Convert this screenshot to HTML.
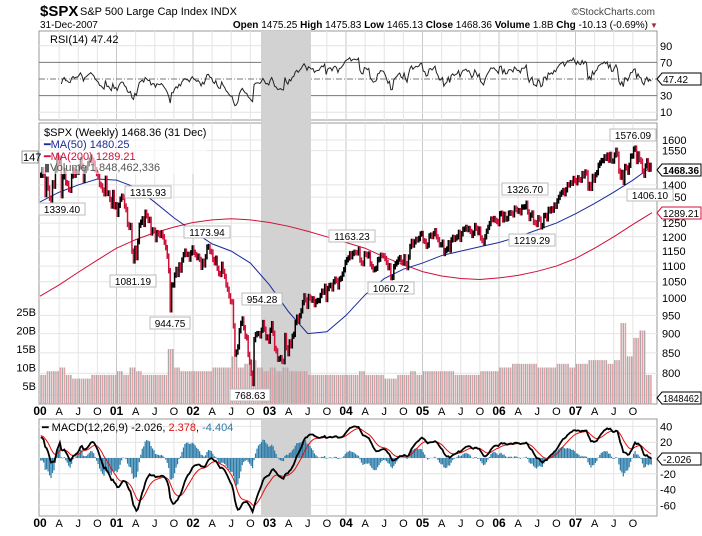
<!DOCTYPE html>
<html><head><meta charset="utf-8"><style>
body{margin:0;background:#fff;width:702px;height:531px;overflow:hidden;font-family:"Liberation Sans",sans-serif}
svg text{font-family:"Liberation Sans",sans-serif}
</style></head><body>
<svg id="c" width="702" height="531" xmlns="http://www.w3.org/2000/svg">
<text x="40" y="16" font-size="15" font-weight="bold">$SPX</text>
<text x="80" y="15" font-size="11">S&amp;P 500 Large Cap Index  INDX</text>
<text x="655" y="15" font-size="10" text-anchor="end" fill="#444">©StockCharts.com</text>
<text x="40" y="28" font-size="10">31-Dec-2007</text>
<text x="648" y="28" font-size="10" text-anchor="end"><tspan font-weight="bold">Open</tspan> 1475.25 <tspan font-weight="bold">High</tspan> 1475.83 <tspan font-weight="bold">Low</tspan> 1465.13 <tspan font-weight="bold">Close</tspan> 1468.36 <tspan font-weight="bold">Volume</tspan> 1.8B <tspan font-weight="bold">Chg</tspan> -10.13 (-0.69%)</text>
<text x="650" y="28" font-size="8" fill="#a03040">▼</text>
<g id="g"></g>
</svg>
<script>
const closes2000=[1441,1465,1441,1360,1424,1387,1346,1333,1409,1395,1464,1527,1499,1516,1356,1434,1461,1409,1406,1381,1378,1438,1464,1441,1455,1454,1478,1509,1481,1419,1462,1472,1491,1506,1520,1507,1494,1465,1448,1436,1402,1396,1379,1364,1428,1365,1367,1341,1315,1369,1312,1320];
const closes2001=[1283,1318,1342,1354,1349,1315,1301,1245,1234,1241,1150,1117,1160,1128,1183,1242,1253,1266,1245,1291,1277,1260,1264,1214,1225,1224,1190,1215,1210,1205,1214,1200,1181,1162,1133,1085,966,1040,1040,1071,1089,1073,1104,1087,1120,1138,1150,1139,1139,1123,1144,1161];
const closes2002=[1146,1138,1128,1133,1122,1096,1116,1104,1131,1164,1166,1149,1147,1122,1111,1126,1093,1076,1073,1106,1083,1067,1040,1027,1007,990,989,921,847,852,865,908,928,940,916,893,889,846,827,800,776,884,897,900,900,894,909,930,912,889,891,880];
const closes2003=[909,927,901,861,855,834,835,838,829,828,895,863,848,878,868,893,898,930,945,934,949,963,987,1007,995,976,1005,1000,994,998,981,990,993,993,1008,1021,1018,1036,996,1029,1038,1039,1028,1050,1058,1053,1034,1058,1061,1074,1088,1112];
const closes2004=[1121,1127,1141,1131,1142,1146,1145,1144,1156,1120,1110,1108,1141,1139,1134,1140,1107,1098,1088,1090,1093,1121,1123,1136,1135,1134,1125,1112,1095,1101,1063,1064,1098,1107,1113,1123,1128,1113,1110,1131,1108,1095,1130,1166,1184,1171,1182,1191,1189,1194,1210,1212];
const closes2005=[1186,1184,1167,1171,1203,1206,1201,1211,1222,1200,1190,1172,1172,1181,1142,1152,1157,1179,1154,1189,1198,1191,1196,1200,1216,1191,1211,1227,1228,1234,1226,1230,1219,1205,1213,1241,1231,1215,1228,1196,1187,1178,1200,1220,1234,1248,1265,1263,1267,1260,1256,1248];
const closes2006=[1285,1287,1262,1283,1265,1267,1287,1289,1287,1281,1307,1302,1295,1297,1289,1311,1311,1312,1326,1292,1267,1280,1288,1253,1251,1245,1270,1265,1236,1241,1278,1279,1266,1302,1296,1304,1299,1319,1314,1335,1349,1362,1369,1377,1364,1380,1401,1400,1409,1407,1427,1418];
const closes2007=[1409,1430,1422,1420,1448,1438,1455,1451,1387,1402,1386,1436,1420,1443,1452,1484,1494,1505,1505,1522,1515,1530,1507,1533,1503,1503,1530,1552,1534,1459,1433,1453,1411,1479,1473,1454,1484,1525,1526,1557,1562,1501,1535,1509,1502,1459,1441,1481,1504,1467,1484,1468];
const ma50Quarterly=[1331,1370,1400,1425,1420,1390,1330,1270,1220,1175,1150,1110,1040,960,900,905,950,1010,1060,1090,1110,1135,1150,1165,1180,1200,1225,1250,1285,1325,1370,1420,1480];
const ma200Quarterly=[1006,1040,1080,1120,1160,1190,1215,1235,1252,1262,1266,1262,1252,1238,1220,1200,1180,1160,1130,1105,1082,1068,1060,1057,1062,1070,1083,1100,1125,1160,1200,1245,1289];
const volumeMonthly=[8,9,9,10,8,7,7,7,8,8,8,8,9,8,10,9,8,8,8,8,15,10,9,9,9,9,9,10,10,10,13,10,11,12,10,9,10,9,10,9,9,9,8,8,8,8,8,8,8,8,9,8,8,8,7,7,8,8,9,8,9,9,9,9,9,8,8,8,8,9,9,9,10,10,11,11,11,11,10,10,10,11,11,10,11,11,12,12,12,11,12,22,13,18,20,8];
const priceTicks=[1600,1550,1400,1350,1250,1200,1150,1100,1050,1000,950,900,850,800,750];
const rsiTicks=[90,70,30,10];
const macdTicks=[40,20,-20,-40,-60];
const volTicks=[25,20,15,10,5];
const yearLabels=["00","01","02","03","04","05","06","07"];
const monthLabels=["A","J","O"];

const closes=[].concat(closes2000,closes2001,closes2002,closes2003,closes2004,closes2005,closes2006,closes2007);
const N=closes.length;
const NS="http://www.w3.org/2000/svg";
const G=document.getElementById('g');
function mk(t,a,p){const e=document.createElementNS(NS,t);for(const k in a)e.setAttribute(k,a[k]);(p||G).appendChild(e);return e;}
const X0=40,XW=612;
const xw=i=>X0+(i+0.5)*XW/N;
const xq=q=>X0+q*XW/32;
const yP=v=>140+336.5*(Math.log(1600)-Math.log(v));
const yR=v=>79-(v-50)*0.83;
const yM=v=>458-v*0.79;
const yV=v=>404.5-v*3.7;

const p1=mk('rect',{x:39,y:31,width:618,height:89,fill:'#fff',stroke:'#999'});

const p2=mk('rect',{x:39,y:123,width:618,height:281,fill:'#fff',stroke:'#999'});

const p3=mk('rect',{x:39,y:419,width:618,height:97,fill:'#fff',stroke:'#999'});

for(let q=1;q<32;q++){for(const [a,b] of [[31,120],[123,404],[419,516]]){const l=mk('line',{x1:xq(q),x2:xq(q),y1:a,y2:b,stroke:q%4==0?'#c8c8c8':'#e4e4e4'});}}
priceTicks.forEach(v=>{const l=mk('line',{x1:39,x2:657,y1:yP(v),y2:yP(v),stroke:'#e4e4e4'});
 const t=mk('text',{x:662,y:yP(v)+4,'font-size':11});t.textContent=v;});
rsiTicks.concat([50]).forEach(v=>{const l=mk('line',{x1:39,x2:657,y1:yR(v),y2:yR(v),stroke:(v==70||v==30||v==50)?'#777':'#e4e4e4','stroke-dasharray':v==50?'6,2,1,2':''});
 if(v!=50){const t=mk('text',{x:660,y:yR(v)+4,'font-size':11});t.textContent=v;}});
macdTicks.concat([0]).forEach(v=>{const l=mk('line',{x1:39,x2:657,y1:yM(v),y2:yM(v),stroke:'#e4e4e4'});
 if(v!=0){const t=mk('text',{x:660,y:yM(v)+4,'font-size':11});t.textContent=v;}});
volTicks.forEach(v=>{const t=mk('text',{x:36,y:yV(v)+4,'font-size':11,'text-anchor':'end'});t.textContent=v+'B';});
for(const [a,b] of [[31,404],[419,516]]){const s=mk('rect',{x:261,y:a,width:50,height:b-a,fill:'#d2d2d2'});}
volumeMonthly.forEach((v,m)=>{const w=XW/96;const i0=Math.floor(m*N/96),i1=Math.min(N-1,Math.floor((m+1)*N/96));
 for(let k=0;k<3;k++){const up=(m+k)%2==0;
 const r=mk('rect',{x:X0+m*w+k*w/3+0.3,y:yV(v),width:w/3-0.6,height:404.5-yV(v),fill:up?'#aaa':'#e4a0a4'});}});
function line(pts,col,w,name){const l=mk('polyline',{points:pts.map(p=>p.join(',')).join(' '),fill:'none',stroke:col,'stroke-width':w});}
line(ma200Quarterly.map((v,q)=>[xq(q),yP(v)]),'#d0103a',1,'ma200-line');
line(ma50Quarterly.map((v,q)=>[xq(q),yP(v)]),'#1a2a9a',1,'ma50-line');
closes.forEach((c,i)=>{const o=i?closes[i-1]:c;const hi=Math.max(o,c)*1.008,lo=Math.min(o,c)*0.992;const x=xw(i);const col=c>=o?'#000':'#d0103a';
 const b=mk('line',{x1:x,x2:x,y1:yP(hi),y2:yP(lo),stroke:col,'stroke-width':1.5});});
const rsi=[];let ag=0,al=0;
for(let i=1;i<N;i++){const d=closes[i]-closes[i-1];const g=Math.max(d,0),l=Math.max(-d,0);if(i<=14){ag+=g/14;al+=l/14;}else{ag=(ag*13+g)/14;al=(al*13+l)/14;}
 if(i>=14)rsi.push([xw(i),yR(al==0?100:100-100/(1+ag/al))]);}
line(rsi,'#222',1,'rsi-line');
let e12=closes[0]*1.005,e26=closes[0]*0.985,sig=closes[0]*0.02;const mac=[],sg=[];
closes.forEach((c,i)=>{e12+=(c-e12)*2/13;e26+=(c-e26)*2/27;const m=e12-e26;sig+=(m-sig)*2/10;mac.push([xw(i),yM(m)]);sg.push([xw(i),yM(sig)]);
 const h=m-sig;const r=mk('rect',{x:xw(i)-0.6,y:Math.min(yM(h*1.5),458),width:1.2,height:Math.abs(h*1.5*0.79),fill:'#2a7aa8'});});
line(sg,'#e01010',1,'macd-signal-line');
line(mac,'#000',1.8,'macd-line');
for(const yy of [415,527]){yearLabels.forEach((y,k)=>{const t=mk('text',{x:xq(k*4),y:yy,'font-size':12,'font-weight':'bold','text-anchor':'middle'});t.textContent=y;
 monthLabels.forEach((m,j)=>{const u=mk('text',{x:xq(k*4+j+1),y:yy,'font-size':11,'text-anchor':'middle'});u.textContent=m;});});}
[[62,213,'1339.40'],[148,196,'1315.93'],[133,285,'1081.19'],[170,327,'944.75'],[207,236,'1173.94'],[262,303,'954.28'],[250,399,'768.63'],[352,240,'1163.23'],[391,292,'1060.72'],[525,193,'1326.70'],[532,244,'1219.29'],[633,139,'1576.09'],[650,199,'1406.10']].forEach(a=>{
 const w=a[2].length*6+4;const r=mk('rect',{x:a[0]-w/2,y:a[1]-10,width:w,height:12,fill:'#fff',stroke:'#bbb'});
 const t=mk('text',{x:a[0],y:a[1],'font-size':10,'text-anchor':'middle'});t.textContent=a[2];});
[[170,'1468.36','#000',true],[213,'1289.21','#d0103a',false],[398,'1848462','#000',false],[79,'47.42','#000',false],[459,'-2.026','#000',false]].forEach(a=>{
 const r=mk('path',{d:`M657,${a[0]} l5,-6 h39 v12 h-39 z`,fill:'#fff',stroke:a[2]});
 const t=mk('text',{x:663,y:a[0]+4,'font-size':10,'font-weight':a[3]?'bold':'normal',textLength:a[1].length>6?36:'', lengthAdjust:'spacingAndGlyphs'});
 if(a[1].length<=6)t.removeAttribute('textLength');
 t.textContent=a[1];});
function tx(x,y,s,col,name){const t=mk('text',{x:x,y:y,'font-size':11,fill:col});t.textContent=s;return t;}
const bg=mk('rect',{x:42,y:126,width:165,height:48,fill:'#fff','fill-opacity':0.6});
tx(50,43,'RSI(14) 47.42','#000','rsi-legend');
tx(44,136,'$SPX (Weekly) 1468.36 (31 Dec)','#000','price-legend');
tx(44,148,'━MA(50) 1480.25','#1a2a9a','ma50-legend');
tx(44,160,'━MA(200) 1289.21','#d0103a','ma200-legend');
tx(44,171,'▮Volume 1,848,462,336','#555','volume-legend');
const ml=tx(42,431,'','#000','macd-legend');ml.innerHTML='━ MACD(12,26,9) -2.026, <tspan fill="#e01010">2.378</tspan>, <tspan fill="#2a7aa8">-4.404</tspan>';
const lt=mk('rect',{x:22,y:151,width:16,height:12,fill:'#fff',stroke:'#999'});
tx(23,161,'147','#000','left-price-tag-label');
</script>
</body></html>
